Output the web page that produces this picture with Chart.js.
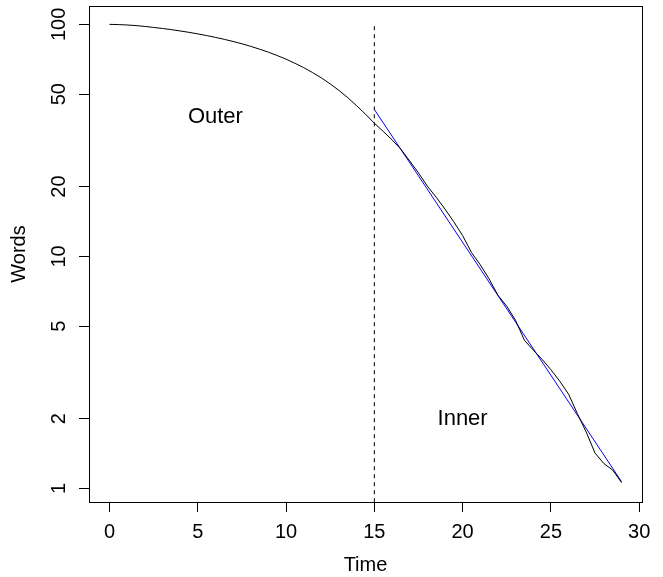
<!DOCTYPE html>
<html lang="en">
<head>
  <meta charset="UTF-8" />
  <title>Words over Time</title>
  <script src="https://cdn.jsdelivr.net/npm/chart.js"></script>
  <style>
    html, body { margin: 0; padding: 0; background: #fff; }
    canvas { display: block; }
  </style>
</head>
<body>
<canvas id="wordsChart" width="663" height="577"></canvas>

<script>
// data ------------------------------------------------------
const times = [0, 0.5, 1, 1.5, 2, 2.5, 3, 3.5, 4, 4.5, 5, 5.5, 6, 6.5, 7, 7.5, 8, 8.5, 9, 9.5,
               10, 10.5, 11, 11.5, 12, 12.5, 13, 13.5, 14, 14.5, 15, 15.5, 16, 16.5, 17, 17.5,
               18, 18.5, 19, 19.5, 20, 20.5, 21, 21.5, 22, 22.5, 23, 23.5, 24, 24.5, 25, 25.5,
               26, 26.5, 27, 27.5, 28, 28.5, 29];
const words = [100, 99.8, 99.4, 98.8, 98.0, 97.0, 96.0, 94.9, 93.7, 92.4, 91.0, 89.5, 87.9, 86.2,
               84.4, 82.5, 80.4, 78.2, 75.9, 73.4, 70.8, 68.0, 65.1, 62.0, 58.8, 55.4, 51.9, 48.3,
               44.6, 41.0, 37.5, 34.6, 31.8, 29.0, 25.8, 22.9, 20.1, 18.0, 16.0, 14.1, 12.3, 10.4,
               9.2, 8.0, 6.8, 6.1, 5.3, 4.35, 3.95, 3.6, 3.25, 2.9, 2.55, 2.1, 1.75, 1.42, 1.28,
               1.2, 1.06];

// fitted line (inner part)
const fitTimes = [15, 29];
const fitWords = [43.0, 1.07];

// split marker
const splitTimes = [15, 15];
const splitWords = [0.5, 100];

const xTicks = [0, 5, 10, 15, 20, 25, 30];
const yTicks = [1, 2, 5, 10, 20, 50, 100];

const regionLabels = ['Outer', 'Inner'];
const regionTimes  = [6, 20];
const regionWords  = [40, 2];

// style -----------------------------------------------------
const FAMILY = "'Liberation Sans', Arial, sans-serif";
const FONT = { family: FAMILY, size: 20 };
const LABEL_SIZE = 22;

const toPoints = (xs, ys) => xs.map((x, i) => ({ x, y: ys[i] }));

// no extra label padding around the plot box
const noPad = s => { s.paddingLeft = s.paddingRight = s.paddingTop = s.paddingBottom = 0; };

// box + region labels
const extras = {
  id: 'extras',
  afterDraw(chart) {
    const { ctx, chartArea: a, scales } = chart;
    ctx.save();
    ctx.strokeStyle = '#000';
    ctx.lineWidth = 1;
    ctx.strokeRect(Math.round(a.left) + 0.5, Math.round(a.top) + 0.5,
                   Math.round(a.right - a.left), Math.round(a.bottom - a.top));
    ctx.fillStyle = '#000';
    ctx.font = `${LABEL_SIZE}px ${FAMILY}`;
    ctx.textAlign = 'center';
    ctx.textBaseline = 'middle';
    regionLabels.forEach((txt, i) => {
      ctx.fillText(txt, scales.x.getPixelForValue(regionTimes[i]),
                        scales.y.getPixelForValue(regionWords[i]));
    });
    ctx.restore();
  }
};

new Chart(document.getElementById('wordsChart'), {
  type: 'line',
  data: {
    datasets: [
      { data: toPoints(splitTimes, splitWords), borderColor: '#000', borderWidth: 1,
        borderDash: [4, 4], pointRadius: 0 },
      { data: toPoints(times, words), borderColor: '#000', borderWidth: 1,
        pointRadius: 0, tension: 0 },
      { data: toPoints(fitTimes, fitWords), borderColor: '#0000ff', borderWidth: 1,
        pointRadius: 0 }
    ]
  },
  options: {
    responsive: false,
    animation: false,
    events: [],
    layout: { padding: { top: 6, right: 21, left: 0, bottom: 0 } },
    plugins: { legend: { display: false }, tooltip: { enabled: false } },
    scales: {
      x: {
        type: 'linear', min: -1.16, max: 30.16,
        afterBuildTicks: s => { s.ticks = xTicks.map(v => ({ value: v })); },
        afterFit: s => { s.height = 75; noPad(s); },
        grid: { drawOnChartArea: false, tickLength: 10, color: '#000', lineWidth: 1 },
        border: { display: true, color: '#000', width: 1 },
        ticks: { color: '#000', font: FONT, padding: 8, maxRotation: 0, autoSkip: false,
                 callback: v => String(v) },
        title: { display: true, text: 'Time', color: '#000', font: FONT, padding: { top: 0, bottom: 0 } }
      },
      y: {
        type: 'logarithmic', min: 0.874, max: 120,
        afterBuildTicks: s => { s.ticks = yTicks.map(v => ({ value: v })); },
        afterFit: s => { s.width = 89; noPad(s); },
        grid: { drawOnChartArea: false, tickLength: 10, color: '#000', lineWidth: 1 },
        border: { display: true, color: '#000', width: 1 },
        ticks: { color: '#000', font: FONT, padding: 3, minRotation: 90, maxRotation: 90,
                 crossAlign: 'center', autoSkip: false, callback: v => String(v) },
        title: { display: true, text: 'Words', color: '#000', font: FONT, padding: { top: 7, bottom: 0 } }
      }
    }
  },
  plugins: [extras]
});
</script>
</body>
</html>
